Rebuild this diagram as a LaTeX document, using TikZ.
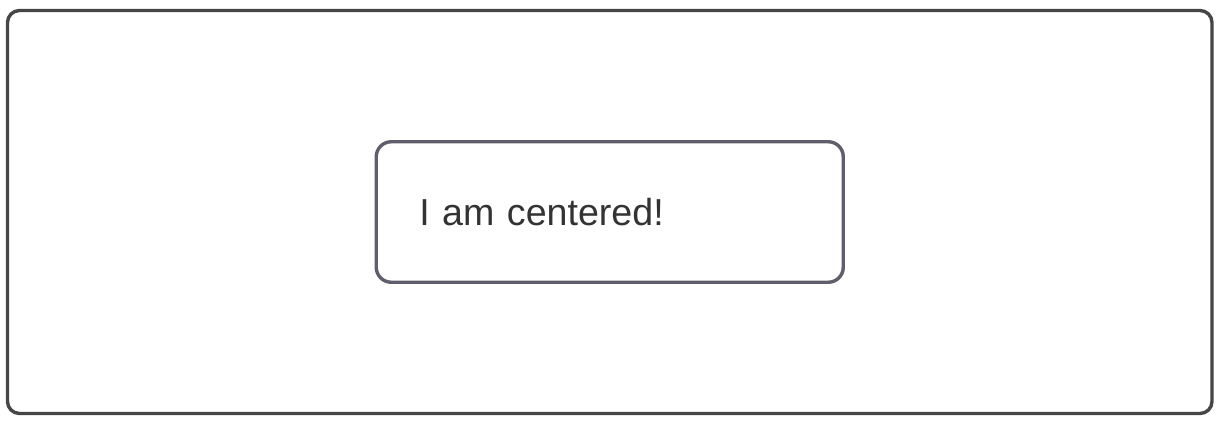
\documentclass[tikz,border=0pt]{standalone}
\usepackage{fontspec}
\setmainfont{Liberation Sans}
\usepackage{tikz}
\usetikzlibrary{
    positioning,
    shapes.misc,
}
\definecolor{framegray}{HTML}{474547}
\definecolor{cardgray}{HTML}{5F5E6C}
\definecolor{textgray}{HTML}{333333}
\tikzset{frame/.style={draw=framegray, line width=3.4pt, rounded corners=12pt,
    minimum width=1204.5pt, minimum height=403pt}}
\tikzset{card/.style={draw=cardgray, line width=3.4pt, rounded corners=15pt,
    minimum width=467pt, minimum height=140.5pt, text width=381pt,
    inner xsep=43pt, align=left, text=textgray,
    font=\fontsize{37.6}{45}\selectfont}}

\begin{document}
\begin{tikzpicture}
            \useasboundingbox (0,0) rectangle (1219pt,421pt);
            \node[frame] (outer) at (609.75pt,209pt) {};
            \node[card] (centered) at (outer.center) {I am centered!};
        \end{tikzpicture}
\end{document}
